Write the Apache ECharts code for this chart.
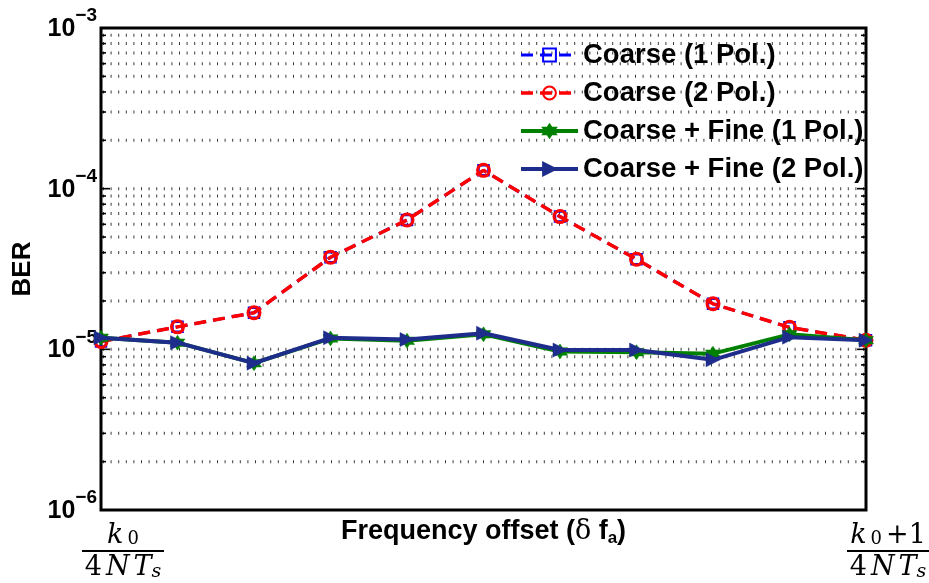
<!DOCTYPE html>
<html>
<head>
<meta charset="utf-8">
<script src="https://cdn.jsdelivr.net/npm/echarts@6/dist/echarts.min.js"></script>
<style>
  html, body { margin: 0; padding: 0; background: #fff; }
  #chart { width: 929px; height: 583px; }
</style>
</head>
<body>
<div id="chart"></div>
<script>
// Frequency offset steps between k0/(4NTs) and (k0+1)/(4NTs)
const offsetSteps = ['0', '1', '2', '3', '4', '5', '6', '7', '8', '9', '10'];
// Only the two ends of the offset range carry a tick label
const offsetTickLabels = ['k0/4NTs', '', '', '', '', '', '', '', '', '', '(k0+1)/4NTs'];

// Bit error rate per offset step
const berCoarse1Pol = [1.12e-5, 1.38e-5, 1.69e-5, 3.74e-5, 6.38e-5, 1.30e-4, 6.70e-5, 3.64e-5, 1.92e-5, 1.37e-5, 1.14e-5];
const berCoarse2Pol = [1.12e-5, 1.38e-5, 1.69e-5, 3.74e-5, 6.38e-5, 1.30e-4, 6.70e-5, 3.64e-5, 1.92e-5, 1.37e-5, 1.14e-5];
const berFine1Pol   = [1.18e-5, 1.10e-5, 8.2e-6, 1.17e-5, 1.13e-5, 1.24e-5, 9.7e-6, 9.6e-6, 9.4e-6, 1.24e-5, 1.14e-5];
const berFine2Pol   = [1.18e-5, 1.10e-5, 8.2e-6, 1.18e-5, 1.15e-5, 1.26e-5, 9.9e-6, 9.9e-6, 8.6e-6, 1.19e-5, 1.14e-5];

const seriesNames = ['Coarse (1 Pol.)', 'Coarse (2 Pol.)', 'Coarse + Fine (1 Pol.)', 'Coarse + Fine (2 Pol.)'];

const berMin = 1e-6;
const berMax = 1e-3;

// Dotted grid rows at every 1..9 x 10^k inside the axis range
const gridRows = [];
for (let e = Math.log10(berMin); e < Math.log10(berMax); e++) {
  for (let m = 1; m <= 9; m++) {
    const v = m * Math.pow(10, e);
    if (v > berMin * 1.0001 && v < berMax * 0.9999) gridRows.push(v);
  }
}

const SANS = "'Liberation Sans', Arial, Helvetica, sans-serif";
const SERIF = "'DejaVu Serif', 'Liberation Serif', serif";

const hexagram = 'path://M10,0 L12.885,5 L18.66,5 L15.77,10 L18.66,15 L12.885,15 L10,20 L7.115,15 L1.34,15 L4.23,10 L1.34,5 L7.115,5 Z';
const rightTriangle = 'path://M0,0 L10,5 L0,10 Z';

const fractionRich = {
  ki: { fontFamily: SERIF, fontStyle: 'italic', fontSize: 27, lineHeight: 24, color: '#000' },
  ks: { fontFamily: SERIF, fontSize: 18, color: '#000', verticalAlign: 'bottom' },
  gap: { width: 4 },
  pl: { fontFamily: SERIF, fontSize: 27, lineHeight: 24, color: '#000' },
  bar: { width: 82, height: 2, lineHeight: 6, backgroundColor: '#000' },
  dn: { fontFamily: SERIF, fontSize: 27, lineHeight: 28, color: '#000' },
  di: { fontFamily: SERIF, fontStyle: 'italic', fontSize: 27, lineHeight: 28, color: '#000' },
  ds: { fontFamily: SERIF, fontStyle: 'italic', fontSize: 19, color: '#000', verticalAlign: 'bottom' }
};

function fractionLabel(key) {
  const den = '{dn|4}{gap|}{di|N}{gap|}{di|T}{ds|s}';
  if (key === 'k0/4NTs') return '{ki|k}{gap|}{ks|0}\n{bar|}\n' + den;
  if (key === '(k0+1)/4NTs') return '{ki|k}{gap|}{ks|0}{gap|}{pl|+1}\n{bar|}\n' + den;
  return '';
}

const chart = echarts.init(document.getElementById('chart'), null, { renderer: 'canvas' });

chart.setOption({
  animation: false,
  backgroundColor: '#fff',
  grid: {
    left: 101, top: 28, width: 765, height: 482,
    show: true, borderColor: '#000', borderWidth: 3, backgroundColor: 'transparent',
    containLabel: false, outerBoundsMode: 'none'
  },
  legend: {
    orient: 'vertical', left: 514, top: 35,
    itemWidth: 57, itemHeight: 16, itemGap: 8,
    selectedMode: false,
    data: seriesNames,
    lineStyle: { width: 'inherit' },
    textStyle: { fontFamily: SANS, fontSize: 27.5, fontWeight: 'bold', color: '#000', lineHeight: 30 }
  },
  xAxis: {
    type: 'category',
    data: offsetSteps,
    boundaryGap: false,
    axisLine: { show: false },
    axisTick: { show: false },
    splitLine: { show: false },
    axisLabel: {
      interval: 0,
      margin: 14,
      padding: [0, 0, 0, 44],
      formatter: (value, index) => fractionLabel(offsetTickLabels[index]),
      rich: fractionRich
    },
    name: '{t|Frequency offset (}{g|δ}{t| f}{sub|a}{t|)}',
    nameLocation: 'middle',
    nameGap: 7,
    nameMoveOverlap: false,
    nameTextStyle: {
      rich: {
        t: { fontFamily: SANS, fontSize: 27, fontWeight: 'bold', color: '#000', lineHeight: 30 },
        g: { fontFamily: SERIF, fontSize: 27, color: '#000', lineHeight: 30 },
        sub: { fontFamily: SANS, fontSize: 17, fontWeight: 'bold', color: '#000', verticalAlign: 'bottom' }
      }
    }
  },
  yAxis: {
    type: 'log',
    logBase: 10,
    min: berMin,
    max: berMax,
    axisLine: { show: false },
    axisTick: { show: false },
    splitLine: { show: false },
    minorTick: { show: false },
    axisLabel: {
      margin: 4,
      padding: [0, 0, 8, 0],
      formatter: v => '{b|10}{s|\u2212' + Math.abs(Math.round(Math.log10(v))) + '}',
      rich: {
        b: { fontFamily: SANS, fontSize: 25, fontWeight: 'bold', color: '#000', lineHeight: 35, verticalAlign: 'bottom' },
        s: { fontFamily: SANS, fontSize: 19, fontWeight: 'bold', color: '#000', verticalAlign: 'top' }
      }
    },
    name: 'BER',
    nameLocation: 'middle',
    nameRotate: 90,
    nameGap: 64,
    nameMoveOverlap: false,
    nameTextStyle: { fontFamily: SANS, fontSize: 26, fontWeight: 'bold', color: '#000', lineHeight: 28 }
  },
  series: [
    {
      type: 'custom',
      name: 'gridRows',
      silent: true,
      z: 1,
      clip: false,
      data: gridRows.map(v => [0, v]),
      encode: { x: 0, y: 1 },
      renderItem: (params, api) => {
        const v = api.value(1);
        const lg = Math.log10(v);
        const major = Math.abs(lg - Math.round(lg)) < 1e-6;
        const a = api.coord([0, v]);
        const b = api.coord([offsetSteps.length - 1, v]);
        const tl = major ? 9 : 5;
        return {
          type: 'group',
          children: [
            { type: 'line', shape: { x1: a[0] + 2, y1: a[1], x2: b[0] - 2, y2: b[1] },
              style: { stroke: '#3a3a3a', lineWidth: 3, lineDash: [1, 6.6] } },
            { type: 'line', shape: { x1: a[0], y1: a[1], x2: a[0] + tl, y2: a[1] },
              style: { stroke: '#000', lineWidth: 1.6 } },
            { type: 'line', shape: { x1: b[0], y1: b[1], x2: b[0] - tl, y2: b[1] },
              style: { stroke: '#000', lineWidth: 1.6 } }
          ]
        };
      }
    },
    {
      type: 'line',
      name: seriesNames[0],
      data: berCoarse1Pol,
      z: 3,
      symbol: 'rect',
      symbolSize: 10,
      lineStyle: { color: '#0000ff', width: 3, type: [12, 7] },
      itemStyle: { color: 'rgba(255,255,255,0)', borderColor: '#0000ff', borderWidth: 2.5 }
    },
    {
      type: 'line',
      name: seriesNames[1],
      data: berCoarse2Pol,
      z: 4,
      symbol: 'circle',
      symbolSize: 12,
      lineStyle: { color: '#ff0000', width: 3.5, type: [12, 7] },
      itemStyle: { color: 'rgba(255,255,255,0)', borderColor: '#ff0000', borderWidth: 3 }
    },
    {
      type: 'line',
      name: seriesNames[2],
      data: berFine1Pol,
      z: 5,
      symbol: hexagram,
      symbolSize: 15,
      lineStyle: { color: '#008000', width: 4 },
      itemStyle: { color: '#008000', borderColor: '#008000', borderWidth: 0.5 }
    },
    {
      type: 'line',
      name: seriesNames[3],
      data: berFine2Pol,
      z: 6,
      symbol: rightTriangle,
      symbolSize: 14,
      lineStyle: { color: '#1e2d8c', width: 4 },
      itemStyle: { color: '#1e2d8c', borderColor: '#1e2d8c', borderWidth: 0.5 }
    }
  ]
});
</script>
</body>
</html>
